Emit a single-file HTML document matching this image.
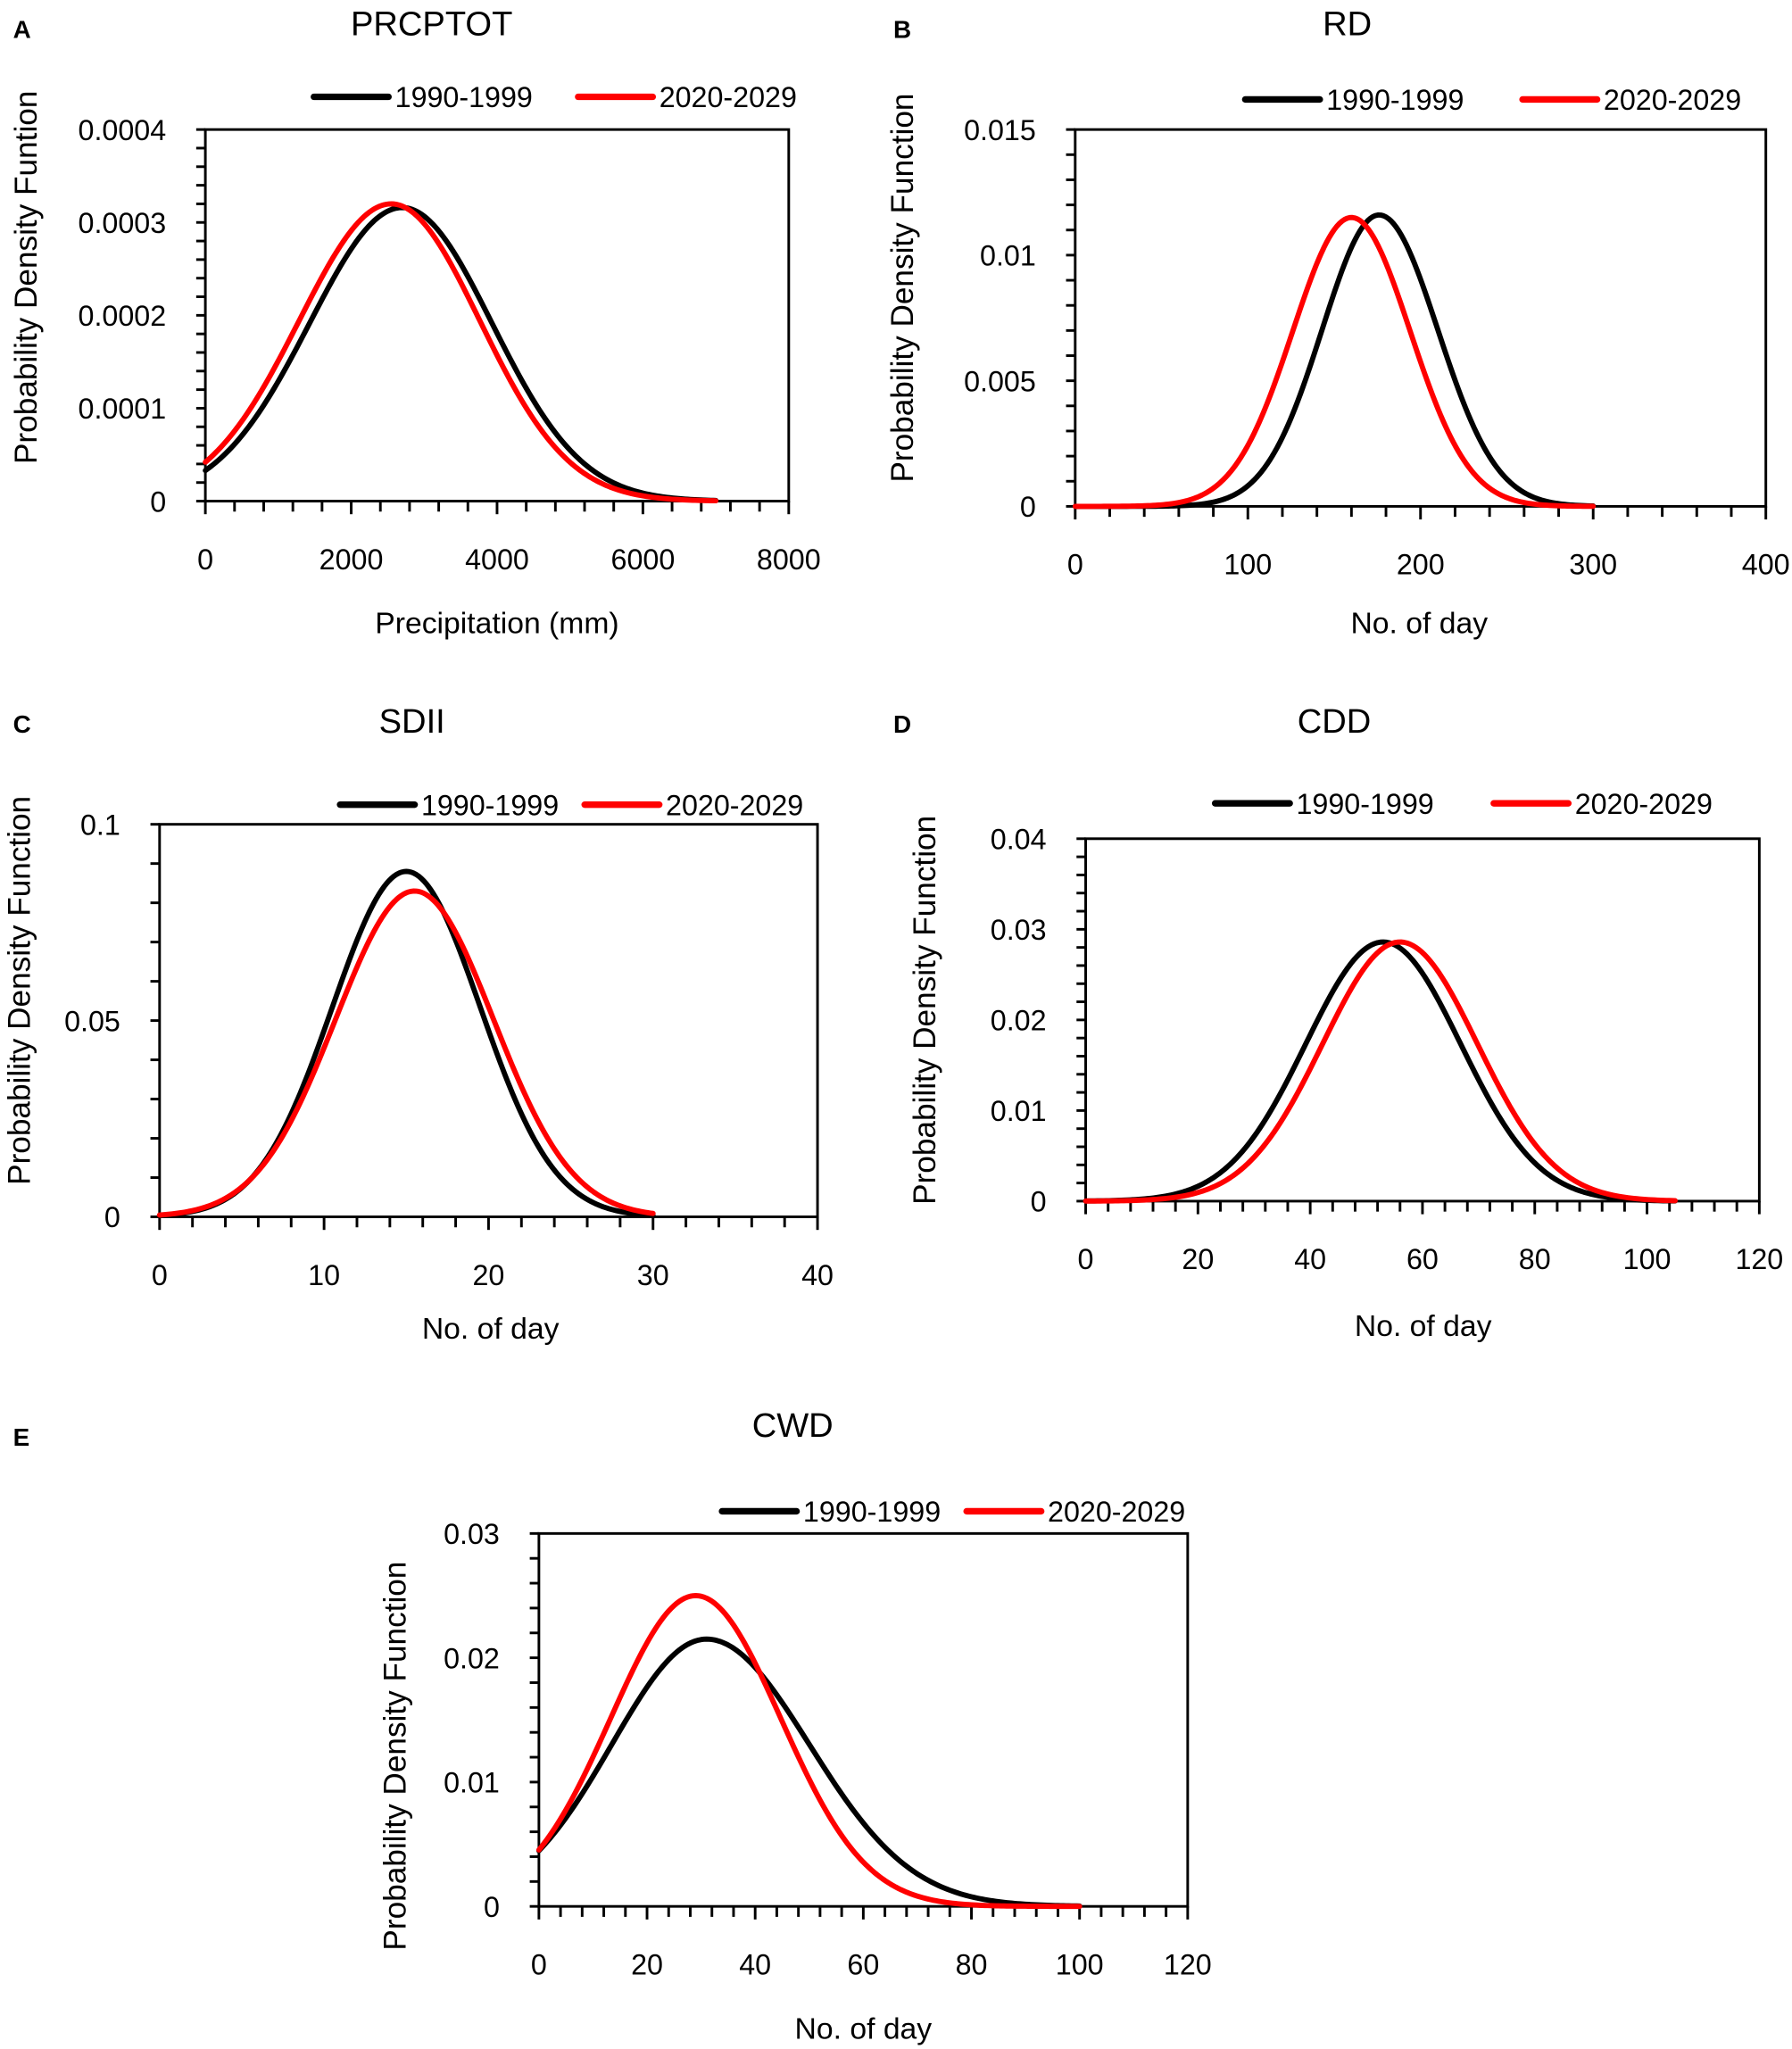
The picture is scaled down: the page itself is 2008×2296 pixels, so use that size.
<!DOCTYPE html>
<html><head><meta charset="utf-8"><style>
html,body{margin:0;padding:0;background:#fff;}
svg{display:block;}
text{font-family:"Liberation Sans",sans-serif;fill:#000;}
</style></head><body>
<svg id="s" xmlns="http://www.w3.org/2000/svg" width="2008" height="2296" viewBox="0 0 1370 1566" preserveAspectRatio="none">
<rect width="1370" height="1566" fill="#fff"/>
<text x="10" y="29" font-size="19" font-weight="bold">A</text>
<text x="683" y="29" font-size="19" font-weight="bold">B</text>
<text x="10" y="560" font-size="19" font-weight="bold">C</text>
<text x="683" y="560" font-size="19" font-weight="bold">D</text>
<text x="10" y="1105" font-size="19" font-weight="bold">E</text>
</svg>
<script>
var S=document.getElementById('s'),NS='http://www.w3.org/2000/svg';
function el(t,a,txt){var e=document.createElementNS(NS,t);for(var k in a)e.setAttribute(k,a[k]);if(txt!==undefined)e.textContent=txt;S.appendChild(e);return e;}
function panel(c){
 var L=c.box[0],T=c.box[1],R=c.box[2],B=c.box[3];
 function px(x){return L+(x-c.x0)/(c.x1-c.x0)*(R-L);}
 function py(y){return B-(y)/(c.y1)*(B-T);}
 el('rect',{x:L,y:T,width:R-L,height:B-T,fill:'none',stroke:'#000','stroke-width':2});
 var ny=c.ydiv*c.yl.length-c.ydiv;
 for(var i=0;i<=ny;i++){var y=B-(B-T)*i/ny;el('line',{x1:L-7,y1:y,x2:L,y2:y,stroke:'#000','stroke-width':2});}
 var nx=c.xdiv*(c.xl.length-1);
 for(var i=0;i<=nx;i++){var x=L+(R-L)*i/nx;el('line',{x1:x,y1:B,x2:x,y2:B+(i%c.xdiv==0?10:8),stroke:'#000','stroke-width':2});}
 for(var i=0;i<c.yl.length;i++){var y=B-(B-T)*i/(c.yl.length-1);el('text',{x:L-30,y:y+8,'font-size':22,'text-anchor':'end'},c.yl[i]);}
 for(var i=0;i<c.xl.length;i++){var x=L+(R-L)*i/(c.xl.length-1);el('text',{x:x,y:B+52,'font-size':22,'text-anchor':'middle'},c.xl[i]);}
 el('text',{x:c.title[0],y:c.title[1],'font-size':26,'text-anchor':'middle'},c.title[2]);
 el('text',{x:c.xlab[0],y:c.xlab[1],'font-size':23,'text-anchor':'middle'},c.xlab[2]);
 el('text',{x:0,y:0,'font-size':24,'text-anchor':'middle',transform:'translate('+c.ylab[0]+','+c.ylab[1]+') rotate(-90)'},c.ylab[2]);
 var lg=c.leg;
 el('line',{x1:lg[0],y1:lg[1],x2:lg[0]+57,y2:lg[1],stroke:'#000','stroke-width':5,'stroke-linecap':'round'});
 el('text',{x:lg[0]+62,y:lg[1]+8,'font-size':22},'1990-1999');
 el('line',{x1:lg[2],y1:lg[1],x2:lg[2]+57,y2:lg[1],stroke:'#f00','stroke-width':5,'stroke-linecap':'round'});
 el('text',{x:lg[2]+62,y:lg[1]+8,'font-size':22},'2020-2029');
 c.curves.forEach(function(k){
  var d='';for(var i=0;i<=200;i++){var x=k.a+(k.b-k.a)*i/200;var s=x<k.mu?k.sl:k.sr;var v=k.p*Math.exp(-(x-k.mu)*(x-k.mu)/(2*s*s));d+=(i?'L':'M')+px(x).toFixed(2)+' '+py(v).toFixed(2);}
  el('path',{d:d,fill:'none',stroke:k.col,'stroke-width':4,'stroke-linejoin':'round','stroke-linecap':'round'});
 });
}
panel({box:[157,99,603,383],x0:0,x1:8000,y1:0.0004,ydiv:5,xdiv:5,yl:['0','0.0001','0.0002','0.0003','0.0004'],xl:['0','2000','4000','6000','8000'],
 title:[330,27,'PRCPTOT'],xlab:[380,484,'Precipitation (mm)'],ylab:[28,212,'Probability Density Funtion'],leg:[240,74,442],
 curves:[{col:'#000',a:0,b:7000,mu:2700,p:0.000316,sl:1270,sr:1230},{col:'#f00',a:0,b:7000,mu:2550,p:0.00032,sl:1265,sr:1215}]});
panel({box:[822,99,1350,387],x0:0,x1:400,y1:0.015,ydiv:5,xdiv:5,yl:['0','0.005','0.01','0.015'],xl:['0','100','200','300','400'],
 title:[1030,27,'RD'],xlab:[1085,484,'No. of day'],ylab:[698,220,'Probability Density Function'],leg:[952,76,1164],
 curves:[{col:'#000',a:0,b:300,mu:176,p:0.0116,sl:33,sr:34},{col:'#f00',a:0,b:300,mu:160,p:0.0115,sl:34,sr:34}]});
panel({box:[122,630,625,930],x0:0,x1:40,y1:0.1,ydiv:5,xdiv:5,yl:['0','0.05','0.1'],xl:['0','10','20','30','40'],
 title:[315,560,'SDII'],xlab:[375,1023,'No. of day'],ylab:[23,757,'Probability Density Function'],leg:[260,615,447],
 curves:[{col:'#000',a:0,b:30,mu:15,p:0.088,sl:4.5,sr:4.5},{col:'#f00',a:0,b:30,mu:15.5,p:0.083,sl:4.8,sr:4.8}]});
panel({box:[830,641,1345,918],x0:0,x1:120,y1:0.04,ydiv:5,xdiv:5,yl:['0','0.01','0.02','0.03','0.04'],xl:['0','20','40','60','80','100','120'],
 title:[1020,560,'CDD'],xlab:[1088,1021,'No. of day'],ylab:[715,772,'Probability Density Function'],leg:[929,614,1142],
 curves:[{col:'#000',a:0,b:105,mu:53,p:0.0286,sl:13.8,sr:13.8},{col:'#f00',a:0,b:105,mu:56,p:0.0286,sl:13.8,sr:13.8}]});
panel({box:[412,1172,908,1457],x0:0,x1:120,y1:0.03,ydiv:5,xdiv:5,yl:['0','0.01','0.02','0.03'],xl:['0','20','40','60','80','100','120'],
 title:[606,1098,'CWD'],xlab:[660,1558,'No. of day'],ylab:[310,1342,'Probability Density Function'],leg:[552,1155,739],
 curves:[{col:'#000',a:0,b:100,mu:31,p:0.0215,sl:17.5,sr:19},{col:'#f00',a:0,b:100,mu:29,p:0.025,sl:15.7,sr:15.7}]});
</script>
</body></html>
